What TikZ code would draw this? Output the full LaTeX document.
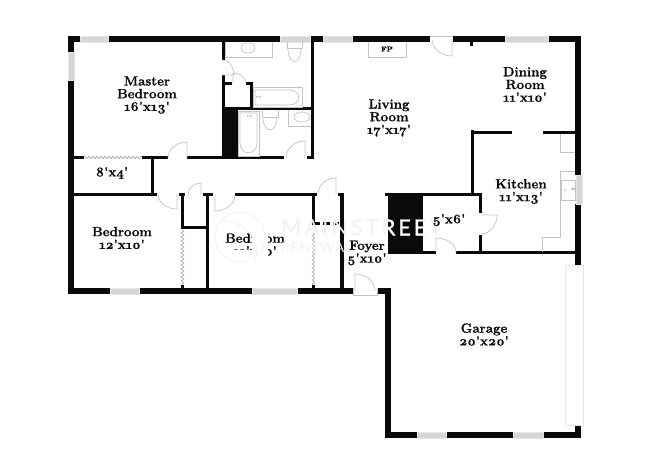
\documentclass[tikz,border=0pt]{standalone}
\usepackage{fontspec}
\newfontfamily\rf{Latin Modern Roman}[Numbers=OldStyle,BoldFeatures={FakeBold=0.9}]
\newfontfamily\wmfont{Lato}[LetterSpace=13]
\newfontfamily\wmfontb{Lato}[LetterSpace=13,FakeBold=1.2]
\newfontfamily\wmfonts{Lato}[LetterSpace=9]
\usetikzlibrary{calc,decorations.pathmorphing}
\definecolor{wallc}{HTML}{0A0A0A}
\definecolor{fixc}{HTML}{C4C4C4}
\definecolor{winc}{HTML}{D6D6D6}
\definecolor{winb}{HTML}{E6E6E6}
\definecolor{wmc}{HTML}{F1F1F1}
\newcommand{\W}[4]{\fill[wallc] (#1,#2) rectangle (#3,#4);}
\newcommand{\Win}[4]{\filldraw[draw=winb,fill=winc,line width=.8pt] (#1,#2) rectangle (#3,#4);}
\newcommand{\Door}[6]{\draw[fixc,line width=.7pt] (#1,#2) -- (#5,#6) .. controls ($(#5,#6)+.55*(#3,#4)-.55*(#1,#2)$) and ($(#3,#4)+.55*(#5,#6)-.55*(#1,#2)$) .. (#3,#4);}
\tikzset{
  fix/.style={draw=fixc,line width=.7pt},
  fold/.style={draw=fixc!85!black,line width=.7pt,decorate,decoration={zigzag,amplitude=1.3pt,segment length=4pt}},
  room/.style={font=\rf\bfseries\fontsize{13.3}{12.7}\selectfont,align=center,text=wallc,inner sep=0pt},
  wm/.style={font=\wmfont\fontsize{22}{22}\selectfont,inner sep=0pt,anchor=west},
  wmb/.style={font=\wmfontb\fontsize{22}{22}\selectfont,inner sep=0pt,anchor=west},
  wms/.style={font=\wmfonts\fontsize{13.5}{13.5}\selectfont,inner sep=0pt,anchor=west,text=wmc}
}
\begin{document}
\begin{tikzpicture}[x=1pt,y=-1pt]
\useasboundingbox (0,0) rectangle (650,473);
\fill[white] (0,0) rectangle (650,473);
% outer walls: top
\W{68}{36}{80}{42}\W{108}{36}{280}{42}\W{310}{36}{323}{42}\W{352}{36}{430}{42}\W{453}{36}{505}{42}\W{548}{36}{581}{42}
\W{470}{42}{473}{46}
% left
\W{68}{36}{74}{52}\W{68}{80}{74}{294}
% right
\W{575}{36}{581}{175}\W{575}{204}{581}{265}\W{575}{425}{581}{438}
% bottom
\W{68}{288}{110}{294}\W{139}{288}{252}{294}\W{297}{288}{353}{294}\W{377}{288}{391}{294}
% garage
\W{385}{288}{391}{438}\W{385}{432}{417}{438}\W{446}{432}{513}{438}\W{543}{432}{581}{438}
% windows
\Win{80}{36}{108}{42}\Win{280}{36}{310}{42}\Win{323}{36}{352}{42}\Win{505}{36}{548}{42}
\Win{68}{52}{74}{80}\Win{576}{175}{582}{204}
\Win{110}{288}{139}{294}\Win{252}{288}{297}{294}
\Win{417}{432}{446}{438}\Win{513}{432}{543}{438}
% garage door
\filldraw[draw=winb,fill=white,line width=.8pt] (565,265) rectangle (583,425);
% master bedroom / bath walls
\W{74}{156}{84}{159}\W{142}{156}{168}{159}\W{187}{156}{284}{159}\W{307}{156}{314}{159}
\W{151}{157}{153.5}{195}
\W{74}{193}{157}{196}\W{179}{193}{185}{196}\W{203}{193}{213}{196}\W{235}{193}{317}{196}\W{338}{193}{344}{196}
\W{181}{194}{184}{228}\W{181}{226}{208}{228.5}\W{206}{194}{209}{290}
\W{181}{285}{184}{290}
\W{312}{194}{315}{225}\W{312}{222}{320}{225}\W{323}{222}{330}{225}\W{333}{222}{339}{225}
\W{312}{285}{315}{290}
\W{340}{194}{343.5}{290}
\W{222}{42}{225}{60}\W{222}{75}{225}{157}\W{222}{108}{238}{157}
\W{224}{82}{232}{85}\W{246}{82}{253}{85}\W{250}{82}{253}{109}
\W{224}{107}{312}{110}\W{311}{42}{314}{158}
% kitchen
\W{471}{130}{473.5}{195}\W{471}{131}{512}{134}\W{543}{131}{575}{134}
\W{385}{193}{482}{196}\W{388}{193}{423}{254}\W{479}{193}{482}{213}\W{479}{235}{482}{254}
\W{391}{251}{436}{254}\W{456}{251}{575}{254}
% fixtures
\draw[fix] (225,42) -- (225,57) -- (272,57) -- (272,42);
\draw[fix] (248,48) ellipse (7 and 5);
\draw[fix] (287,42) -- (287,48) -- (302,48) -- (302,42);
\draw[fix] (288,48) .. controls (288,66) and (301,66) .. (301,48);
\draw[fix] (253,87) rectangle (302,107);
\draw[fix] (255,90) -- (289,90) .. controls (302,90) and (302,105) .. (289,105) -- (255,105) -- cycle;
\fill[fixc] (256,96) rectangle (258,97.5) (259,96) rectangle (261,97.5);
\draw[fix] (238,111) rectangle (259,156);
\draw[fix] (240,113) -- (257,113) -- (257,143) .. controls (257,156) and (240,156) .. (240,143) -- cycle;
\fill[fixc] (247,115) rectangle (248.5,117) (250,115) rectangle (251.5,117);
\draw[fix] (262,110) -- (262,117) -- (278,117) -- (278,110);
\draw[fix] (263,117) .. controls (263,134) and (277,134) .. (277,117);
\draw[fix] (288,110) -- (288,126) -- (311,126);
\draw[fix] (302,117) ellipse (8 and 5);
\draw[fix] (368,42) -- (368,57) -- (406,57) -- (406,42);
% kitchen counters
\draw[fix] (560,134) -- (560,152) -- (575,152);
\draw[fix] (575,171) -- (560,171) -- (560,237) -- (542,237) -- (542,252);
\draw[fix] (561,180) rectangle (575,200);
\fill[fixc] (564,189.5) rectangle (565.5,191) (571,188) rectangle (575,190);
% folding doors
\draw[fold] (84,157.5) -- (142,157.5);
\draw[fold] (182.5,230) -- (182.5,285);
\draw[fold] (313.5,233) -- (313.5,285);
% doors
\Door{222}{75}{222}{60}{234}{75}
\Door{233}{83}{246}{83}{233}{73}
\Door{187}{158}{168}{158}{187}{142}
\Door{305}{158}{286}{158}{305}{141}
\Door{177}{194}{158}{194}{177}{209}
\Door{201}{195}{188}{195}{201}{183}
\Door{215}{195}{235}{195}{215}{211}
\Door{336}{194}{318}{194}{336}{178}
\Door{355}{291}{375}{291}{355}{274}
\Door{452}{39}{432}{39}{452}{56}
\Door{481}{215}{481}{234}{497}{215}
\Door{436}{252}{456}{252}{436}{238}
\draw[fix] (430,36) -- (453,36);
\draw[fix] (353,288) -- (353,295) -- (377,295) -- (377,288);
% labels
\node[room] (master) at (147,95) {Master\\Bedroom\\16'x13'};
\node[room] (closet) at (112,173) {8'x4'};
\node[room] (bed2) at (122,238) {Bedroom\\12'x10'};
\node[room] (bed3) at (255,244.5) {Bedroom\\11'x10'};
\node[room] (living) at (389,118) {Living\\Room\\17'x17'};
\node[room] (dining) at (525,84.5) {Dining\\Room\\11'x10'};
\node[room] (kitchen) at (521,191.5) {Kitchen\\11'x13'};
\node[room] (garage) at (484,334.5) {Garage\\20'x20'};
\node[room,font=\rf\bfseries\fontsize{7}{8}\selectfont] (fp) at (387,49) {FP};
% watermark
\fill[white] (251.5,226) rectangle (268,258);
\fill[white] (232,249.5) rectangle (262,258);
\fill[white] (224,227) -- (229,227) -- (225,240) -- cycle;
\draw[wmc,line width=.8pt] (240,237) circle (25);
\draw[wmc,line width=.8pt] (222,220) .. controls (245,222) and (262,240) .. (255,262);
\begin{scope}
\clip (0,0) rectangle (388,473) (423,0) rectangle (650,473);
\node[wm,text=wmc] (wm1) at (281,227.5) {MAINSTREET};
\end{scope}
\begin{scope}
\clip (388,193) rectangle (423,254);
\node[wmb,text=white] (wm2) at (281,227.5) {MAINSTREET};
\end{scope}
\node[wms] (wm3) at (281,247.5) {RENEWAL};
\node[room] (foyer) at (367,253) {Foyer\\5'x10'};
\node[room] (pantry) at (449,220) {5'x6'};
\end{tikzpicture}
\end{document}
